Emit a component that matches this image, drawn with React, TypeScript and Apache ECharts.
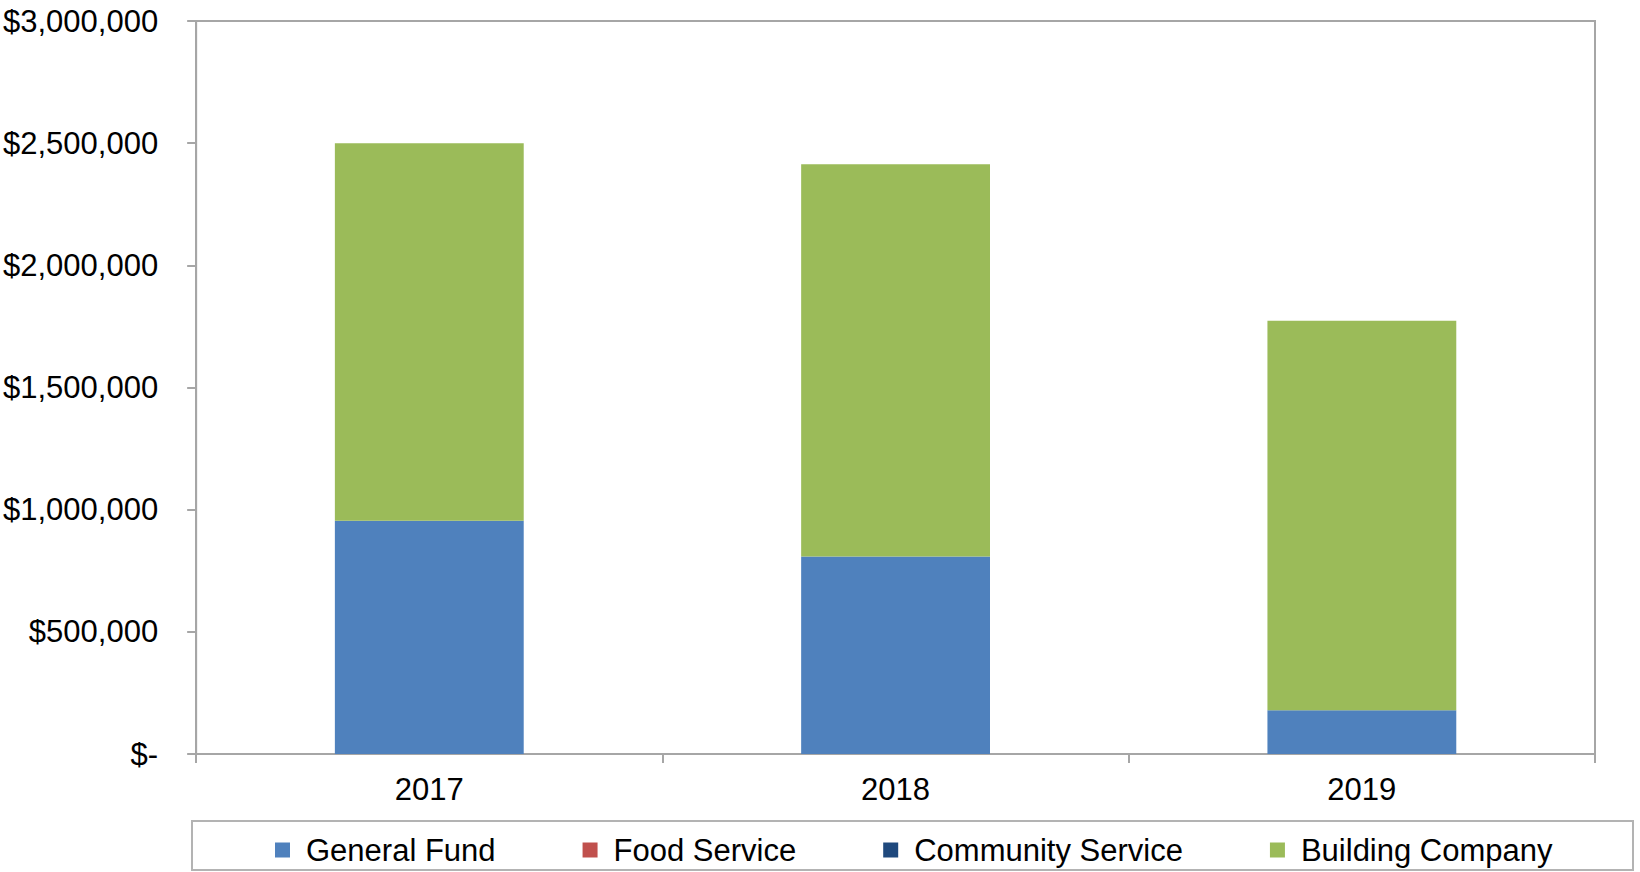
import React, { useEffect, useRef } from "react";
import * as echarts from "echarts";

const categories = ["2017", "2018", "2019"];
const generalFund = [955000, 808000, 179000];
const foodService = [0, 0, 0];
const communityService = [0, 0, 0];
const buildingCompany = [1545000, 1606000, 1594000];
const seriesNames = ["General Fund", "Food Service", "Community Service", "Building Company"];
const yTickLabels = ["$-", "$500,000", "$1,000,000", "$1,500,000", "$2,000,000", "$2,500,000", "$3,000,000"];
const yMax = 3000000;
const yInterval = 500000;

const FONT = "'Liberation Sans', Arial, sans-serif";
const AXIS_COLOR = "#a6a6a6";

export default function App() {
  const ref = useRef<HTMLDivElement>(null);
  useEffect(() => {
    if (!ref.current) return;
    const chart = echarts.init(ref.current, null, { renderer: "svg" });
    const colors = ["#4f81bd", "#c0504d", "#1f497d", "#9bbb59"];
    const dataSets = [generalFund, foodService, communityService, buildingCompany];
    chart.setOption({
      animation: false,
      backgroundColor: "#ffffff",
      textStyle: { fontFamily: FONT },
      grid: {
        left: 194,
        right: 45,
        top: 21,
        bottom: 118,
        show: true,
        borderColor: AXIS_COLOR,
        borderWidth: 2,
        containLabel: false,
      },
      legend: {
        left: 270,
        top: 827,
        itemWidth: 15,
        itemHeight: 15,
        itemGap: 87,
        icon: "rect",
        data: seriesNames,
        formatter: (name: string) => "{pad|}" + name,
        textStyle: {
          fontFamily: FONT,
          fontSize: 31,
          color: "#000000",
          lineHeight: 36,
          rich: {
            pad: { width: 11 },
          },
        },
      },
      graphic: [
        {
          type: "rect",
          shape: { x: 192, y: 821, width: 1441, height: 49 },
          style: { fill: "none", stroke: "#b3b3b3", lineWidth: 2 },
          silent: true,
        },
      ],
      xAxis: {
        type: "category",
        data: categories,
        axisLine: { show: true, lineStyle: { color: AXIS_COLOR, width: 2 } },
        axisTick: { show: true, length: 9, lineStyle: { color: AXIS_COLOR, width: 2 } },
        axisLabel: { color: "#000000", fontSize: 31, fontFamily: FONT, margin: 20 },
        splitLine: { show: false },
      },
      yAxis: {
        type: "value",
        min: 0,
        max: yMax,
        interval: yInterval,
        axisLine: { show: true, lineStyle: { color: AXIS_COLOR, width: 2 } },
        axisTick: { show: true, length: 9, lineStyle: { color: AXIS_COLOR, width: 2 } },
        axisLabel: {
          color: "#000000",
          fontSize: 31,
          fontFamily: FONT,
          margin: 38,
          formatter: (v: number) => yTickLabels[Math.round(v / yInterval)],
        },
        splitLine: { show: false },
      },
      series: seriesNames.map((name, i) => ({
        name,
        type: "bar",
        stack: "total",
        barWidth: "40.5%",
        data: dataSets[i],
        itemStyle: { color: colors[i] },
      })),
    });
    return () => chart.dispose();
  }, []);
  return (
    <div
      ref={ref}
      style={{ position: "fixed", left: 0, top: 0, width: 1640, height: 872 }}
    />
  );
}
